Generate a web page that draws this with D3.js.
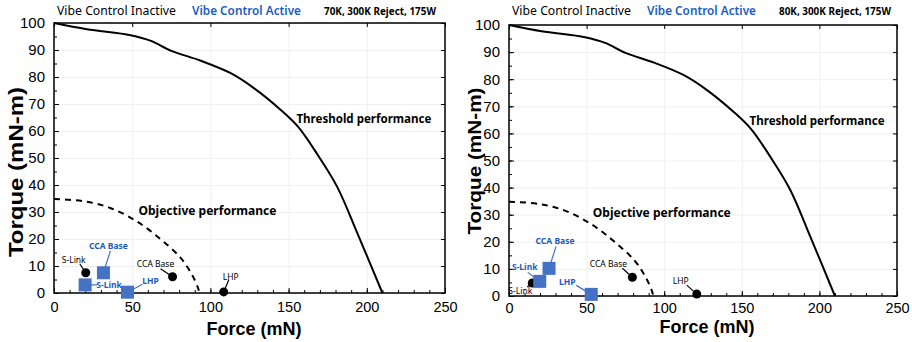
<!DOCTYPE html>
<html>
<head>
<meta charset="utf-8">
<script src="https://cdn.jsdelivr.net/npm/d3@7"></script>
<style>
  body { margin: 0; background: #fff; }
  svg { display: block; }
  .tick text { font-family: "Liberation Sans", Arial, sans-serif; }
</style>
</head>
<body>
<svg id="chart" width="912" height="342"></svg>
<script>
// curves (same in both panels)
var thresholdForce = [0, 21, 49, 62, 75, 94, 113, 128, 145, 156, 168, 181, 194, 210];
var thresholdTorque = [100, 97.7, 95.5, 93.4, 89.7, 86, 81.4, 75.8, 67.8, 61.6, 51.7, 39.4, 22.1, 0];
var objectiveForce = [0, 19, 36, 53, 68, 81, 88, 92, 93];
var objectiveTorque = [34.8, 34, 31.5, 26.5, 20, 13, 7, 2, 0];

var pointNames = ["S-Link", "CCA Base", "LHP"];
// 70K panel
var inactive70Force = [20.3, 75.8, 108.5];
var inactive70Torque = [7.5, 6, 0.4];
var active70Force = [19.9, 31.6, 47];
var active70Torque = [3, 7.5, 0.3];
// 80K panel
var inactive80Force = [15, 79.5, 121];
var inactive80Torque = [4.8, 6.9, 0.7];
var active80Force = [19.8, 25.8, 53];
var active80Torque = [5.4, 10.2, 0.6];

var conditions = ["70K, 300K Reject, 175W", "80K, 300K Reject, 175W"];
var xTicks = [0, 50, 100, 150, 200, 250];
var yTicks = [0, 10, 20, 30, 40, 50, 60, 70, 80, 90, 100];

// label placement (px offsets from marker): [text dx, text dy, line end dx, line end dy]
var place70Inactive = [[-12, -13, -6, -9], [-17, -13, -12, -8], [7, -15, 5, -12]];
var place70Active = [[24, 0, 12, 0], [5, -27, 7, -22], [23, -11, 15, -8]];
var place80Inactive = [[-12, 8, -5, 4], [-24, -13, -10, -9], [-16, -13, -10, -9]];
var place80Active = [[-15, -14, -12, -9], [6, -27, 7, -22], [-24, -12, -15, -9]];

var BLUE_TXT = "#1a5cbf", BLUE_MK = "#4472c4";

var svg = d3.select("#chart");

var panels = [
  { left: 54, top: 23, width: 391, height: 270, cond: conditions[0], pad: 9,
    inF: inactive70Force, inT: inactive70Torque, acF: active70Force, acT: active70Torque,
    inP: place70Inactive, acP: place70Active,
    yLab: { dx: -38, cy: 172, len: 170, fs: 21 }, xLab: { cx: 254, y: 335 } },
  { left: 509, top: 25, width: 388, height: 271, cond: conditions[1], pad: 7,
    inF: inactive80Force, inT: inactive80Torque, acF: active80Force, acT: active80Torque,
    inP: place80Inactive, acP: place80Active,
    yLab: { dx: -35, cy: 161, len: 147, fs: 19 }, xLab: { cx: 707, y: 333 } }
];

panels.forEach(drawPanel);

function drawPanel(p) {
  var x = d3.scaleLinear().domain([0, 250]).range([p.left, p.left + p.width]);
  var y = d3.scaleLinear().domain([0, 100]).range([p.top + p.height, p.top]);
  var bottom = p.top + p.height, right = p.left + p.width;
  var g = svg.append("g");

  // faint grid
  g.append("g").attr("transform", "translate(0," + bottom + ")")
    .call(d3.axisBottom(x).tickValues(xTicks).tickSize(-p.height).tickFormat(""))
    .call(function(s) { s.select(".domain").remove(); s.selectAll("line").attr("stroke", "#f0f0f0"); });
  g.append("g").attr("transform", "translate(" + p.left + ",0)")
    .call(d3.axisLeft(y).tickValues(yTicks).tickSize(-p.width).tickFormat(""))
    .call(function(s) { s.select(".domain").remove(); s.selectAll("line").attr("stroke", "#f0f0f0"); });

  // minor ticks
  g.append("g").attr("transform", "translate(0," + bottom + ")")
    .call(d3.axisBottom(x).tickValues(d3.range(0, 251, 10)).tickSize(-3).tickFormat(""))
    .call(function(s) { s.select(".domain").remove(); });
  g.append("g").attr("transform", "translate(" + p.left + ",0)")
    .call(d3.axisLeft(y).tickValues(d3.range(0, 101, 5)).tickSize(-3).tickFormat(""))
    .call(function(s) { s.select(".domain").remove(); });
  g.append("g").attr("transform", "translate(0," + p.top + ")")
    .call(d3.axisTop(x).tickValues(xTicks).tickSize(-4).tickFormat(""))
    .call(function(s) { s.select(".domain").remove(); });
  g.append("g").attr("transform", "translate(" + right + ",0)")
    .call(d3.axisRight(y).tickValues(yTicks).tickSize(-4).tickFormat(""))
    .call(function(s) { s.select(".domain").remove(); });

  // labelled axes
  g.append("g").attr("transform", "translate(0," + bottom + ")")
    .call(d3.axisBottom(x).tickValues(xTicks).tickSize(-5).tickPadding(p.pad))
    .call(function(s) {
      s.select(".domain").remove();
      s.selectAll("text").attr("font-size", 14.5).attr("fill", "#000");
    });
  g.append("g").attr("transform", "translate(" + p.left + ",0)")
    .call(d3.axisLeft(y).tickValues(yTicks).tickSize(-5).tickPadding(9))
    .call(function(s) {
      s.select(".domain").remove();
      s.selectAll("text").attr("font-size", 15).attr("fill", "#000");
    });

  // frame
  g.append("rect").attr("x", p.left).attr("y", p.top)
    .attr("width", p.width).attr("height", p.height)
    .attr("fill", "none").attr("stroke", "#000").attr("stroke-width", 1.5);

  // curves
  var line = d3.line().x(function(d) { return x(d[0]); }).y(function(d) { return y(d[1]); })
    .curve(d3.curveCatmullRom);
  g.append("path").datum(d3.zip(thresholdForce, thresholdTorque))
    .attr("d", line).attr("fill", "none").attr("stroke", "#000").attr("stroke-width", 2);
  g.append("path").datum(d3.zip(objectiveForce, objectiveTorque))
    .attr("d", line).attr("fill", "none").attr("stroke", "#000").attr("stroke-width", 2)
    .attr("stroke-dasharray", "6,5");

  // curve labels
  g.append("text").attr("x", x(155)).attr("y", y(63))
    .attr("font-family", "Noto Sans, sans-serif").attr("font-weight", 700).attr("font-size", 13)
    .attr("textLength", 135).attr("lengthAdjust", "spacingAndGlyphs")
    .text("Threshold performance");
  g.append("text").attr("x", x(54)).attr("y", y(29))
    .attr("font-family", "Noto Sans, sans-serif").attr("font-weight", 700).attr("font-size", 13)
    .attr("textLength", 138).attr("lengthAdjust", "spacingAndGlyphs")
    .text("Objective performance");

  // points
  var inPts = pointNames.map(function(n, i) { return { name: n, f: p.inF[i], t: p.inT[i], pl: p.inP[i] }; });
  var acPts = pointNames.map(function(n, i) { return { name: n, f: p.acF[i], t: p.acT[i], pl: p.acP[i] }; });

  function leaders(pts, color) {
    g.append("g").selectAll("line").data(pts).enter().append("line")
      .attr("x1", function(d) { return x(d.f); }).attr("y1", function(d) { return y(d.t); })
      .attr("x2", function(d) { return x(d.f) + d.pl[2]; }).attr("y2", function(d) { return y(d.t) + d.pl[3]; })
      .attr("stroke", color).attr("stroke-width", 1.2);
  }
  leaders(inPts, "#000");
  leaders(acPts, BLUE_MK);

  g.append("g").selectAll("circle").data(inPts).enter().append("circle")
    .attr("cx", function(d) { return x(d.f); }).attr("cy", function(d) { return y(d.t); })
    .attr("r", 4.5).attr("fill", "#000");
  g.append("g").selectAll("rect").data(acPts).enter().append("rect")
    .attr("x", function(d) { return x(d.f) - 6.5; }).attr("y", function(d) { return y(d.t) - 6.5; })
    .attr("width", 13).attr("height", 13).attr("fill", BLUE_MK);

  function labels(pts, color, weight) {
    g.append("g").selectAll("text").data(pts).enter().append("text")
      .attr("x", function(d) { return x(d.f) + d.pl[0]; })
      .attr("y", function(d) { return y(d.t) + d.pl[1]; })
      .attr("dy", "0.35em").attr("text-anchor", "middle")
      .attr("font-family", "Noto Sans, sans-serif").attr("font-size", 8.5)
      .attr("font-weight", weight).attr("fill", color)
      .text(function(d) { return d.name; });
  }
  labels(inPts, "#000", 400);
  labels(acPts, BLUE_TXT, 700);

  // headers
  var hy = 15;
  g.append("text").attr("x", p.left + 3).attr("y", hy)
    .attr("font-family", "Noto Sans, sans-serif").attr("font-size", 12)
    .attr("textLength", 119).attr("lengthAdjust", "spacingAndGlyphs")
    .text("Vibe Control Inactive");
  g.append("text").attr("x", p.left + 138).attr("y", hy)
    .attr("font-family", "Noto Sans, sans-serif").attr("font-size", 12).attr("font-weight", 600)
    .attr("fill", BLUE_TXT)
    .attr("textLength", 109).attr("lengthAdjust", "spacingAndGlyphs")
    .text("Vibe Control Active");
  g.append("text").attr("x", p.left + 270).attr("y", hy)
    .attr("font-family", "Noto Sans, sans-serif").attr("font-size", 10).attr("font-weight", 700)
    .attr("textLength", 112).attr("lengthAdjust", "spacingAndGlyphs")
    .text(p.cond);

  // axis titles
  g.append("text")
    .attr("transform", "translate(" + (p.left + p.yLab.dx) + "," + p.yLab.cy + ") rotate(-90)")
    .attr("text-anchor", "middle").attr("dy", "0.35em")
    .attr("font-family", "Liberation Sans, Arial, sans-serif").attr("font-weight", 700)
    .attr("font-size", p.yLab.fs)
    .attr("textLength", p.yLab.len).attr("lengthAdjust", "spacingAndGlyphs")
    .text("Torque (mN-m)");
  g.append("text").attr("x", p.xLab.cx).attr("y", p.xLab.y)
    .attr("text-anchor", "middle")
    .attr("font-family", "Liberation Sans, Arial, sans-serif").attr("font-weight", 700)
    .attr("font-size", 18)
    .text("Force (mN)");
}
</script>
</body>
</html>
